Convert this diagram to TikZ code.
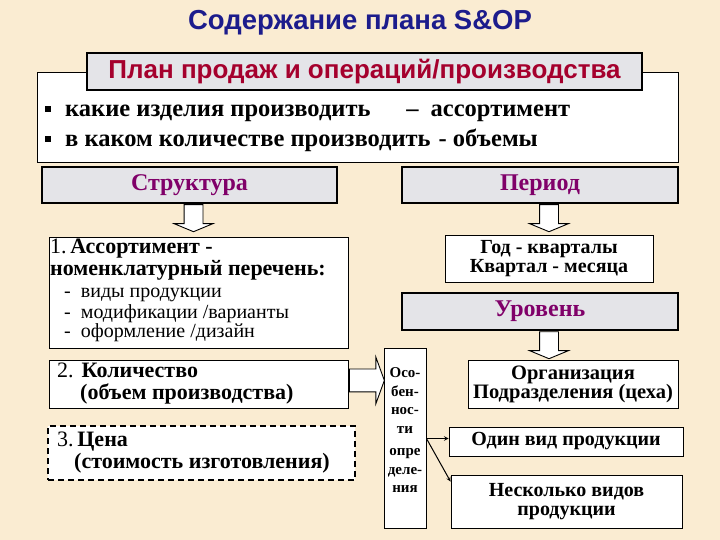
\documentclass[tikz,border=0pt]{standalone}
\usepackage{fontspec}
\setmainfont{Liberation Serif}
\newfontfamily\headfont{Liberation Sans}
\usepackage{tikz}
\usetikzlibrary{arrows.meta, positioning, shapes.arrows}

\definecolor{parchment}{RGB}{250,236,210}
\definecolor{titleblue}{RGB}{28,28,140}
\definecolor{planred}{RGB}{165,0,45}
\definecolor{heading}{RGB}{128,0,105}
\definecolor{panelgrey}{RGB}{228,228,232}

\newcommand{\sqbullet}{\rule[5pt]{6pt}{6pt}}

\begin{document}
\begin{tikzpicture}[x=1pt, y=-1pt,
  greybox/.style={draw=black, line width=2.5pt, fill=panelgrey, inner sep=0pt},
  whitebox/.style={draw=black, line width=0.9pt, fill=white, inner sep=0pt},
  headtext/.style={text=heading, font=\bfseries\fontsize{24}{26}\selectfont},
  bodytext/.style={font=\bfseries\fontsize{22}{24}\selectfont, inner sep=0pt},
  asktext/.style={font=\bfseries\fontsize{24.5}{26}\selectfont, inner sep=0pt},
  listtext/.style={font=\fontsize{20}{22}\selectfont, inner sep=0pt},
  boxtext/.style={font=\bfseries\fontsize{20}{19}\selectfont, align=center},
  blockarr/.style={single arrow, draw=black, line width=0.9pt, fill=white,
    inner xsep=0pt, inner ysep=9pt, minimum width=0pt, single arrow head extend=10pt,
    single arrow tip angle=135, sloped, allow upside down}]

  % background and frame of the page
  \fill[parchment] (0,0) rectangle (720,540);
  \useasboundingbox (0,0) rectangle (720,540);

  % Title
  \node[font=\headfont\bfseries\fontsize{27.5}{30}\selectfont, text=titleblue] (title) at (360,23) {Содержание плана S\&OP};

  % Plan box with the two questions
  \node[whitebox, minimum width=641pt, minimum height=90pt] (plan) at (357.5,117) {};
  \node[greybox, minimum width=555pt, minimum height=37pt, text=planred,
    font=\headfont\bfseries\fontsize{26}{28}\selectfont] (planhead) at (364.5,71.5) {План продаж и операций/производства};
  \node[asktext, anchor=base west] (q1) at (45,117) {\sqbullet\hspace{14pt}какие изделия производить\hspace{36pt}–\hspace{12pt}ассортимент};
  \node[asktext, anchor=base west] (q2) at (45,147) {\sqbullet\hspace{14pt}в каком количестве производить\hspace{8pt}- объемы};

  % Left column : structure
  \node[greybox, headtext, minimum width=295pt, minimum height=36pt] (struct) at (189.5,185) {Структура};
  \node[whitebox, minimum width=299pt, minimum height=111pt, anchor=north west] (assort) at (49,237) {};
  \node[bodytext, anchor=base west] (assort1) at (50,254) {{\mdseries 1.}\,Ассортимент -};
  \node[bodytext, anchor=base west] (assort2) at (50,275) {номенклатурный перечень:};
  \node[listtext, anchor=base west] (kind1) at (64,297) {-\hspace{10pt}виды продукции};
  \node[listtext, anchor=base west] (kind2) at (64,318) {-\hspace{10pt}модификации /варианты};
  \node[listtext, anchor=base west] (kind3) at (64,337) {-\hspace{10pt}оформление /дизайн};

  \node[whitebox, minimum width=299pt, minimum height=48pt, anchor=north west] (qty) at (49,360) {};
  \node[bodytext, anchor=base west] (qty1) at (57,377) {{\mdseries 2.}\hspace{8pt}Количество};
  \node[bodytext, anchor=base west] (qty2) at (80,399) {(объем производства)};

  \node[draw=black, line width=2pt, dash pattern=on 6pt off 4pt, fill=white, inner sep=0pt,
    minimum width=307pt, minimum height=54pt, anchor=north west] (price) at (47,425) {};
  \node[bodytext, anchor=base west] (price1) at (57,446) {{\mdseries 3.}\,Цена};
  \node[bodytext, anchor=base west] (price2) at (74,468) {(стоимость изготовления)};

  % Right column : period and level
  \node[greybox, headtext, minimum width=276pt, minimum height=36pt] (period) at (540,185) {Период};
  \node[whitebox, boxtext, minimum width=208pt, minimum height=47pt] (year) at (549,258.5) {Год - кварталы\\Квартал - месяца};
  \node[greybox, headtext, minimum width=276pt, minimum height=37pt] (level) at (540,311.5) {Уровень};
  \node[whitebox, boxtext, font=\bfseries\fontsize{20.5}{19}\selectfont, minimum width=210pt, minimum height=48pt] (org) at (573,384)
    {Организация\\Подразделения (цеха)};

  \node[whitebox, minimum width=42pt, minimum height=180pt] (feat) at (405,438) {};
  \node[font=\bfseries\fontsize{15}{18.5}\selectfont, align=center, inner sep=0pt, below=20pt of feat.north] (feattxt)
    {Осо-\\бен-\\нос-\\ти\\[4pt]опре\\деле-\\ния};

  \node[whitebox, boxtext, minimum width=234pt, minimum height=29pt] (one) at (566,441.5) {Один вид продукции};
  \node[whitebox, boxtext, minimum width=231pt, minimum height=53pt] (several) at (566.5,501.5) {Несколько видов\\продукции};

  % Block arrows
  \path ([xshift=4pt]struct.south) -- node[blockarr, pos=0, anchor=tail, minimum height=27pt] (sarrow) {}
    ([xshift=4pt]struct.south |- assort.north);
  \path (year.north |- period.south) -- node[blockarr, pos=0, anchor=tail, minimum height=27pt] (parrow) {}
    (year.north);
  \path (year.north |- level.south) -- node[blockarr, pos=0, anchor=tail, minimum height=27pt] (larrow) {}
    (year.north |- org.north);
  \path ([yshift=4pt]qty.east) -- node[blockarr, pos=0, anchor=tail, minimum height=35pt, inner ysep=11pt,
    single arrow head extend=12pt, single arrow tip angle=140] (qarrow) {} ([yshift=4pt]qty.east -| feat.west);

  % Thin arrows
  \coordinate (fork) at ([yshift=3pt]feat.east |- one.west);
  \draw[-stealth, line width=1pt] (fork) -- (fork -| one.west);
  \draw[-stealth, line width=1pt] (fork) -- ([yshift=-7pt]several.north west);
\end{tikzpicture}
\end{document}
